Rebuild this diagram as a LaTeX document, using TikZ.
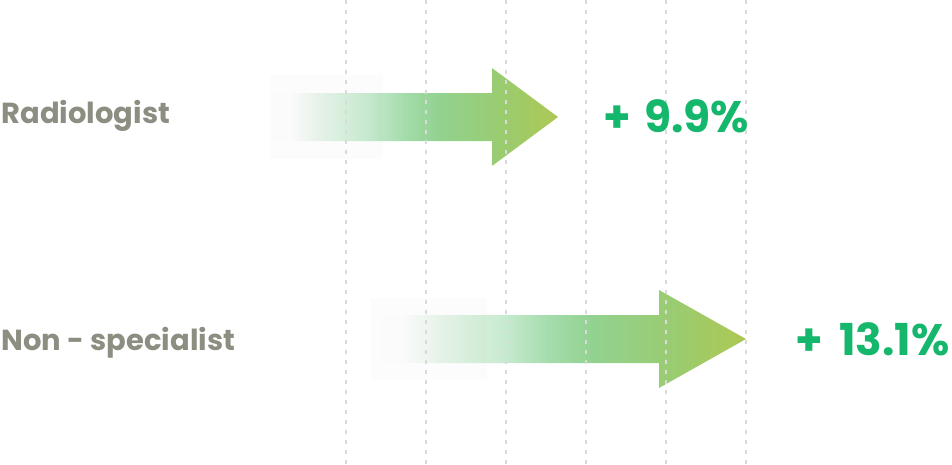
\documentclass[tikz,border=0pt]{standalone}
\usepackage{fontspec}
\setmainfont{Poppins}
\definecolor{labelgray}{RGB}{139,142,128}
\definecolor{pctgreen}{RGB}{20,183,108}
\definecolor{gridgray}{RGB}{218,218,218}
\definecolor{fadeA}{RGB}{232,245,234}
\definecolor{fadeB}{RGB}{196,234,205}
\definecolor{fadeC}{RGB}{160,218,168}
\definecolor{fadeD}{RGB}{140,208,138}
\definecolor{fadeE}{RGB}{147,201,108}
\definecolor{fadeF}{RGB}{168,197,74}
\pgfdeclarehorizontalshading{arrowfade}{100bp}{color(0bp)=(white); color(25bp)=(white); color(28bp)=(white); color(33bp)=(fadeA); color(42bp)=(fadeB); color(48bp)=(fadeC); color(54bp)=(fadeD); color(64bp)=(fadeE); color(75bp)=(fadeF); color(100bp)=(fadeF)}
\tikzset{
  grid line/.style={gridgray, line width=1.6pt, dash pattern=on 4pt off 6pt},
  fat arrow/.style={shading=arrowfade, opacity=0.95},
  ghost/.style={fill=black, fill opacity=0.012},
  role/.style={labelgray, anchor=base west, font=\fontsize{29}{29}\selectfont\bfseries},
  gain/.style={pctgreen, font=\fontsize{44}{44}\selectfont\bfseries}
}
\begin{document}
\begin{tikzpicture}[x=1pt, y=-1pt]
  \useasboundingbox (0,0) rectangle (952,464);

  % arrows
  \shade[fat arrow] (272,93) -- (492,93) -- (492,68) -- (558,117)
    -- (492,166) -- (492,141) -- (272,141) -- cycle;
  \shade[fat arrow] (380,315) -- (659,315) -- (659,290) -- (746,339)
    -- (659,388) -- (659,363) -- (380,363) -- cycle;

  % faint boxes round the arrow tails
  \fill[ghost] (270,75) rectangle (383,159);
  \fill[ghost] (371,298) rectangle (487,380);

  % dashed grid
  \foreach \x in {346,426,...,746}
    \draw[grid line] (\x,0) -- (\x,464);

  % labels
  \node[role] (radio) at (-2,123) {Radiologist};
  \node[role] (nonspec) at (-2,350) {Non - specialist};
  \node[gain, anchor=base west] (radiogain) at (600,132) {+\hspace{0.3em}9.9\%};
  \node[gain, anchor=base east] (nonspecgain) at (953,355) {+\hspace{0.36em}13.1\%};
\end{tikzpicture}
\end{document}
